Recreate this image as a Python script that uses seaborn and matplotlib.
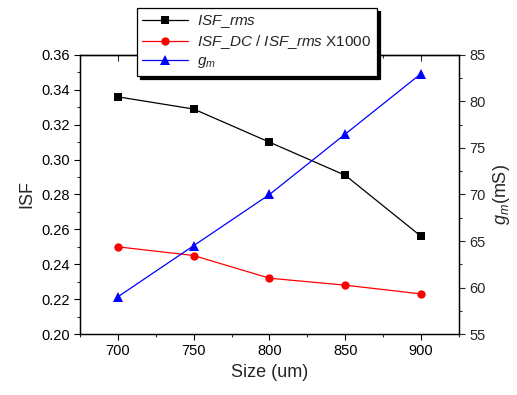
import matplotlib
matplotlib.use("Agg")
import matplotlib.pyplot as plt
import seaborn as sns
import pandas as pd
from matplotlib.ticker import MultipleLocator

sizes = [700, 750, 800, 850, 900]
isf_rms = [0.336, 0.329, 0.310, 0.291, 0.256]
isf_dc_ratio = [0.250, 0.245, 0.232, 0.228, 0.223]
gm = [59.0, 64.5, 70.0, 76.5, 83.0]

sns.set_style("ticks")
plt.rcParams['font.family'] = ['Liberation Sans', 'DejaVu Sans']
plt.rcParams['mathtext.fontset'] = 'custom'
plt.rcParams['mathtext.rm'] = 'Liberation Sans'
plt.rcParams['mathtext.it'] = 'Liberation Sans:italic'

df = pd.DataFrame({"size": sizes, "rms": isf_rms, "ratio": isf_dc_ratio, "gm": gm})

fig = plt.figure(figsize=(5.17, 3.95), dpi=100)
ax = fig.add_axes([0.1547, 0.1544, 0.7331, 0.7064])
ax2 = ax.twinx()

sns.lineplot(data=df, x="size", y="rms", ax=ax, color="black", marker="s",
             markersize=5.5, markeredgewidth=0, linewidth=0.9, legend=False)
sns.lineplot(data=df, x="size", y="ratio", ax=ax, color="red", marker="o",
             markersize=6, markeredgewidth=0, linewidth=0.9, legend=False)
sns.lineplot(data=df, x="size", y="gm", ax=ax2, color="blue", marker="^",
             markersize=6.5, markeredgewidth=0, linewidth=0.9, legend=False)

ax.set_xlim(675, 925)
ax.set_ylim(0.20, 0.36)
ax2.set_ylim(55, 85)
ax.xaxis.set_major_locator(MultipleLocator(50))
ax.xaxis.set_minor_locator(MultipleLocator(25))
ax.yaxis.set_major_locator(MultipleLocator(0.02))
ax.yaxis.set_minor_locator(MultipleLocator(0.01))
ax2.yaxis.set_major_locator(MultipleLocator(5))
ax2.yaxis.set_minor_locator(MultipleLocator(2.5))
ax.yaxis.set_major_formatter(matplotlib.ticker.FormatStrFormatter('%.2f'))

for a in (ax, ax2):
    for s in a.spines.values():
        s.set_linewidth(0.9)
        s.set_color("black")
ax.tick_params(axis='both', which='major', direction='out', length=4, width=0.8, labelsize=10.5, colors='black')
ax.tick_params(axis='both', which='minor', direction='out', length=2.5, width=0.8)
ax2.tick_params(axis='y', which='major', direction='out', length=4, width=0.8, labelsize=10.5)
ax2.tick_params(axis='y', which='minor', direction='out', length=2.5, width=0.8)

top = ax.secondary_xaxis('top')
top.xaxis.set_major_locator(MultipleLocator(50))
top.xaxis.set_minor_locator(MultipleLocator(25))
top.tick_params(which='major', direction='in', length=4, width=0.8, labeltop=False)
top.tick_params(which='minor', direction='in', length=2.5, width=0.8)
top.spines['top'].set_linewidth(0.9)

ax.set_xlabel("Size (um)", fontsize=13)
ax.set_ylabel("ISF", fontsize=13)
ax2.set_ylabel(r"$g_m$(mS)", fontsize=13)

h1 = ax.get_lines()
h2 = ax2.get_lines()
handles = [h1[0], h1[1], h2[0]]
labels = [r"$\mathit{ISF\_rms}$", r"$\mathit{ISF\_DC}$ / $\mathit{ISF\_rms}$ X1000", r"$g_m$"]
leg = fig.legend(handles, labels, loc='upper left', bbox_to_anchor=(137/517, 1 - 8/395),
                 fontsize=11, frameon=True, fancybox=False, framealpha=1,
                 edgecolor='black', shadow={'ox': 2.2, 'oy': -2.2, 'color': 'black', 'alpha': 1},
                 borderpad=0.35, labelspacing=0.2, handlelength=3.0, handletextpad=0.6,
                 borderaxespad=0)
leg.get_frame().set_linewidth(0.9)
leg.set_zorder(10)

fig.savefig("out.png", dpi=100)
